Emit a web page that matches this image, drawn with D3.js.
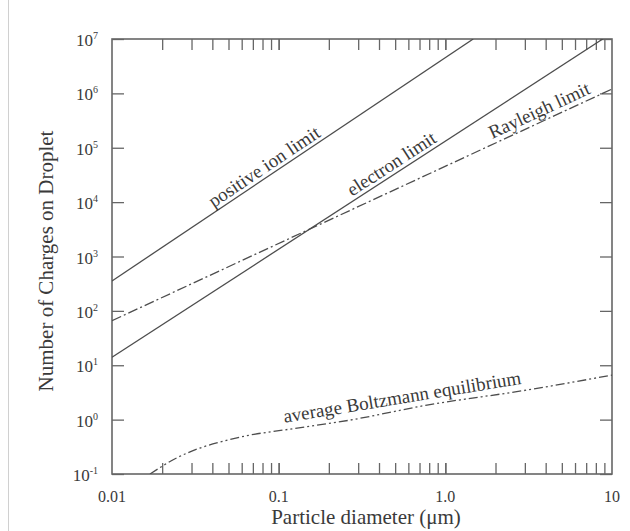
<!DOCTYPE html>
<html>
<head>
<meta charset="utf-8">
<script src="https://cdn.jsdelivr.net/npm/d3@7"></script>
<style>
  body { margin: 0; background: #fff; }
  text { font-family: "Liberation Serif", "DejaVu Serif", serif; fill: #3a3a3a; }
</style>
</head>
<body>
<svg id="chart" width="630" height="531"></svg>
<script>
// data: [diameter um, number of charges]
var positiveIon = [[0.01, 355], [1.47, 1e7]];
var electron    = [[0.01, 14], [8.8, 1e7]];
var rayleigh    = [[0.01, 66], [10, 1.2e6]];
var boltzmann   = [[0.0169, 0.1], [0.0244, 0.197], [0.0337, 0.30], [0.0445, 0.387],
                   [0.0673, 0.52], [0.106, 0.64], [0.268, 0.98], [0.776, 1.85],
                   [3.09, 3.5], [10, 6.6]];

var xTickLabels = [[0.01, "0.01"], [0.1, "0.1"], [1, "1.0"], [10, "10"]];
var yExponents  = [-1, 0, 1, 2, 3, 4, 5, 6, 7];

// labels: text, series, diameter where the text starts
var labels = [
  {text: "positive ion limit", series: positiveIon, d0: 0.042, d1: 1.0, off: 4},
  {text: "electron limit", series: electron, d0: 0.285, d1: 5, off: 4},
  {text: "Rayleigh limit", series: rayleigh, d0: 1.97, d1: 10, off: 5},
  {text: "average Boltzmann equilibrium", series: boltzmann, d0: 0.11, d1: 3.09, off: 7}
];

var svg = d3.select("#chart");
var m = {left: 112, right: 612, top: 39, bottom: 474};

var x = d3.scaleLog().domain([0.01, 10]).range([m.left, m.right]);
var y = d3.scaleLog().domain([0.1, 1e7]).range([m.bottom, m.top]);

// thin border line at left of figure
svg.append("line").attr("x1", 8.5).attr("x2", 8.5).attr("y1", 0).attr("y2", 531)
   .attr("stroke", "#d0d0d0").attr("stroke-width", 1);

svg.append("clipPath").attr("id", "plotclip")
  .append("rect").attr("x", m.left).attr("y", m.top)
  .attr("width", m.right - m.left).attr("height", m.bottom - m.top);

// minor + major ticks on x
var xTicks = [];
[0.01, 0.1, 1].forEach(function(dec){
  for (var k = 1; k <= 10; k++) xTicks.push(dec * k);
});
xTicks = xTicks.filter(function(v){ return v > 0.0101 && v < 9.9; });
var yTicks = yExponents.map(function(e){ return Math.pow(10, e); });

var tickColor = "#666";
svg.append("g").attr("transform", "translate(0," + m.bottom + ")")
   .call(d3.axisBottom(x).tickValues(xTicks).tickSize(-11).tickFormat(""));
svg.append("g").attr("transform", "translate(0," + m.top + ")")
   .call(d3.axisTop(x).tickValues(xTicks).tickSize(-11).tickFormat(""));
svg.append("g").attr("transform", "translate(" + m.left + ",0)")
   .call(d3.axisLeft(y).tickValues(yTicks).tickSize(-12).tickFormat(""));
svg.append("g").attr("transform", "translate(" + m.right + ",0)")
   .call(d3.axisRight(y).tickValues(yTicks).tickSize(-12).tickFormat(""));
svg.selectAll(".domain").remove();
svg.selectAll(".tick line").attr("stroke", tickColor).attr("stroke-width", 1.3);

// frame
svg.append("rect").attr("x", m.left).attr("y", m.top)
   .attr("width", m.right - m.left).attr("height", m.bottom - m.top)
   .attr("fill", "none").attr("stroke", tickColor).attr("stroke-width", 1.6);

// x tick labels
svg.selectAll(".xlab").data(xTickLabels).enter().append("text")
   .attr("class", "xlab")
   .attr("x", function(d){ return x(d[0]); })
   .attr("y", 502)
   .attr("text-anchor", "middle")
   .style("font-size", "16px")
   .text(function(d){ return d[1]; });

// y tick labels 10^n
var ylab = svg.selectAll(".ylab").data(yExponents).enter().append("text")
   .attr("class", "ylab")
   .attr("x", 98)
   .attr("y", function(d){ return y(Math.pow(10, d)) + 7; })
   .attr("text-anchor", "end")
   .style("font-size", "17px");
ylab.append("tspan").text("10");
ylab.append("tspan").attr("dy", -7).style("font-size", "10px").text(function(d){ return d; });

// axis titles
svg.append("text").attr("x", 366).attr("y", 524).attr("text-anchor", "middle")
   .style("font-size", "21px").text("Particle diameter (\u03bcm)");
svg.append("text").attr("transform", "translate(53,261) rotate(-90)")
   .attr("text-anchor", "middle").style("font-size", "21px")
   .text("Number of Charges on Droplet");

// series
var line = d3.line()
  .x(function(d){ return x(d[0]); })
  .y(function(d){ return y(d[1]); });
var curve = d3.line()
  .x(function(d){ return x(d[0]); })
  .y(function(d){ return y(d[1]); })
  .curve(d3.curveMonotoneX);

var g = svg.append("g").attr("clip-path", "url(#plotclip)");
var lineColor = "#4d4d4d";
g.append("path").attr("d", line(positiveIon))
  .attr("fill", "none").attr("stroke", lineColor).attr("stroke-width", 1.3);
g.append("path").attr("d", line(electron))
  .attr("fill", "none").attr("stroke", lineColor).attr("stroke-width", 1.3);
g.append("path").attr("d", line(rayleigh))
  .attr("fill", "none").attr("stroke", lineColor).attr("stroke-width", 1.3)
  .attr("stroke-dasharray", "10,3,2,3");
g.append("path").attr("d", curve(boltzmann))
  .attr("fill", "none").attr("stroke", lineColor).attr("stroke-width", 1.3)
  .attr("stroke-dasharray", "9,3,2,3,2,3");

// value of a series at diameter d (log interpolation)
function valueAt(series, d){
  for (var i = 0; i < series.length - 1; i++){
    var a = series[i], b = series[i + 1];
    if (d >= a[0] && d <= b[0]){
      var t = (Math.log(d) - Math.log(a[0])) / (Math.log(b[0]) - Math.log(a[0]));
      return Math.exp(Math.log(a[1]) + t * (Math.log(b[1]) - Math.log(a[1])));
    }
  }
  return series[series.length - 1][1];
}

labels.forEach(function(l){
  var px0 = x(l.d0), py0 = y(valueAt(l.series, l.d0));
  var px1 = x(l.d1), py1 = y(valueAt(l.series, l.d1));
  var ang = Math.atan2(py1 - py0, px1 - px0);
  var ox = px0 + l.off * Math.sin(ang), oy = py0 - l.off * Math.cos(ang);
  svg.append("text")
     .attr("transform", "translate(" + ox + "," + oy + ") rotate(" + (ang * 180 / Math.PI) + ")")
     .style("font-size", "19px")
     .text(l.text);
});
</script>
</body>
</html>
